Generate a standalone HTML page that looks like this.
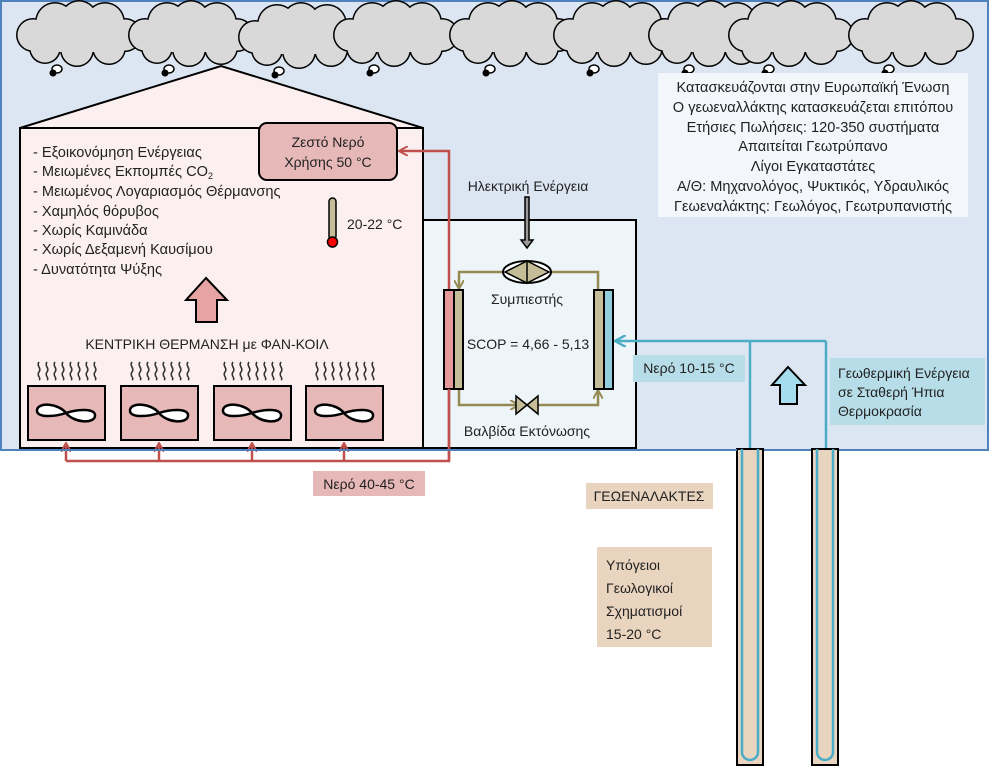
<!DOCTYPE html>
<html><head><meta charset="utf-8"><style>
html,body{margin:0;padding:0;background:#fff;}
svg{display:block;}
text{font-family:"Liberation Sans","DejaVu Sans",sans-serif;font-size:14px;fill:#222;}
.l{font-size:14.6px;}
</style></head><body>
<svg width="990" height="766" viewBox="0 0 990 766" xmlns="http://www.w3.org/2000/svg">
<defs>
<g id="cloud">
 <g fill="#000">
  <circle cx="20" cy="33" r="17"/><circle cx="42" cy="20" r="20"/><circle cx="66" cy="17" r="19"/><circle cx="92" cy="20" r="20"/><circle cx="112" cy="33" r="17"/><circle cx="96" cy="46" r="17"/><circle cx="64" cy="48" r="17"/><circle cx="32" cy="46" r="16"/>
 </g>
 <g fill="#d9d9d9">
  <circle cx="20" cy="33" r="15.5"/><circle cx="42" cy="20" r="18.5"/><circle cx="66" cy="17" r="17.5"/><circle cx="92" cy="20" r="18.5"/><circle cx="112" cy="33" r="15.5"/><circle cx="96" cy="46" r="15.5"/><circle cx="64" cy="48" r="15.5"/><circle cx="32" cy="46" r="14.5"/>
  <rect x="25" y="20" width="85" height="30"/>
 </g>
 <ellipse cx="44" cy="67" rx="5" ry="4" fill="#fff" stroke="#000" stroke-width="1.5"/>
 <circle cx="40" cy="71" r="3.5" fill="#000"/>
</g>
<g id="fan">
 <rect x="0" y="0" width="77" height="54" fill="#e6b8b7" stroke="#000" stroke-width="2"/>
 <path d="M38 27 C30 17 10 16 9 24 C8 32 26 31 38 27 C50 23 68 22 67 30 C66 38 46 37 38 27 Z" fill="#fff" stroke="#000" stroke-width="2.5"/>
</g>
<g id="waves" fill="none" stroke="#333" stroke-width="1.6">
 <path d="M3 0 c-3 4 3 6 0 10 c-3 4 3 6 0 8"/><path d="M11 0 c-3 4 3 6 0 10 c-3 4 3 6 0 8"/><path d="M19 0 c-3 4 3 6 0 10 c-3 4 3 6 0 8"/><path d="M27 0 c-3 4 3 6 0 10 c-3 4 3 6 0 8"/><path d="M35 0 c-3 4 3 6 0 10 c-3 4 3 6 0 8"/><path d="M43 0 c-3 4 3 6 0 10 c-3 4 3 6 0 8"/><path d="M51 0 c-3 4 3 6 0 10 c-3 4 3 6 0 8"/><path d="M59 0 c-3 4 3 6 0 10 c-3 4 3 6 0 8"/>
</g>
<marker id="ar" markerWidth="10" markerHeight="10" refX="8" refY="5" orient="auto" markerUnits="userSpaceOnUse"><path d="M0 0 L9 5 L0 10" fill="none" stroke="#c0504d" stroke-width="2"/></marker>
<marker id="ab" markerWidth="12" markerHeight="12" refX="10" refY="6" orient="auto" markerUnits="userSpaceOnUse"><path d="M0 0 L11 6 L0 12" fill="none" stroke="#4bacc6" stroke-width="2.5"/></marker>
<marker id="ao" markerWidth="10" markerHeight="10" refX="8" refY="5" orient="auto" markerUnits="userSpaceOnUse"><path d="M0 0 L9 5 L0 10" fill="none" stroke="#948a54" stroke-width="2"/></marker>
</defs>

<rect x="1" y="1" width="987" height="449" fill="#dce6f2" stroke="#4f81bd" stroke-width="2"/>

<use href="#cloud" x="13" y="2"/>
<use href="#cloud" x="125" y="2"/>
<use href="#cloud" x="235" y="4"/>
<use href="#cloud" x="330" y="2"/>
<use href="#cloud" x="446" y="2"/>
<use href="#cloud" x="550" y="2"/>
<use href="#cloud" x="645" y="2"/>
<use href="#cloud" x="725" y="2"/>
<use href="#cloud" x="845" y="2"/>

<!-- info box -->
<rect x="658" y="73" width="310" height="144" fill="#f3f7fb"/>
<g text-anchor="middle" class="l">
<text class="l" x="813" y="92">Κατασκευάζονται στην Ευρωπαϊκή Ένωση</text>
<text class="l" x="813" y="112">Ο γεωεναλλάκτης κατασκευάζεται επιτόπου</text>
<text class="l" x="813" y="132">Ετήσιες Πωλήσεις: 120-350 συστήματα</text>
<text class="l" x="813" y="151">Απαιτείται Γεωτρύπανο</text>
<text class="l" x="813" y="171">Λίγοι Εγκαταστάτες</text>
<text class="l" x="813" y="191">Α/Θ: Μηχανολόγος, Ψυκτικός, Υδραυλικός</text>
<text class="l" x="813" y="211">Γεωεναλάκτης: Γεωλόγος, Γεωτρυπανιστής</text>
</g>

<!-- house -->
<path d="M20 128 L221 66 L423 128 Z" fill="#fbf0ef" stroke="#000" stroke-width="2"/>
<rect x="20" y="128" width="403" height="320" fill="#fbf0ef" stroke="#000" stroke-width="2"/>

<!-- heat pump box -->
<rect x="423" y="220" width="213" height="228" fill="#eef5f8" stroke="#000" stroke-width="2"/>

<!-- list -->
<g>
<text class="l" x="33" y="157">- Εξοικονόμηση Ενέργειας</text>
<text class="l" x="33" y="176">- Μειωμένες Εκπομπές CO<tspan font-size="9" dy="3">2</tspan></text>
<text class="l" x="33" y="196">- Μειωμένος Λογαριασμός Θέρμανσης</text>
<text class="l" x="33" y="216">- Χαμηλός θόρυβος</text>
<text class="l" x="33" y="235">- Χωρίς Καμινάδα</text>
<text class="l" x="33" y="254">- Χωρίς Δεξαμενή Καυσίμου</text>
<text class="l" x="33" y="274">- Δυνατότητα Ψύξης</text>
</g>

<!-- hot water box -->
<rect x="259" y="123" width="138" height="57" rx="8" fill="#e6b8b7" stroke="#000" stroke-width="2"/>
<text x="328" y="147" text-anchor="middle">Ζεστό Νερό</text>
<text x="328" y="167" text-anchor="middle">Χρήσης 50 °C</text>

<!-- thermometer -->
<rect x="329" y="198" width="7" height="42" rx="3.5" fill="#c4bd97" stroke="#000" stroke-width="1.5"/>
<circle cx="332.5" cy="242" r="5" fill="#f00" stroke="#000" stroke-width="1.5"/>
<text x="347" y="229">20-22 °C</text>

<!-- pink up arrow -->
<path d="M206 278 L227 300 L217 300 L217 322 L196 322 L196 300 L186 300 Z" fill="#e6a3a2" stroke="#000" stroke-width="2"/>

<text x="207" y="349" text-anchor="middle" font-size="14.5">ΚΕΝΤΡΙΚΗ ΘΕΡΜΑΝΣΗ με ΦΑΝ-ΚΟΙΛ</text>

<use href="#waves" x="36" y="362"/>
<use href="#waves" x="129" y="362"/>
<use href="#waves" x="222" y="362"/>
<use href="#waves" x="314" y="362"/>
<use href="#fan" x="28" y="386"/>
<use href="#fan" x="121" y="386"/>
<use href="#fan" x="214" y="386"/>
<use href="#fan" x="306" y="386"/>

<!-- red piping -->
<g fill="none" stroke="#c0504d" stroke-width="2.5">
<path d="M66 461 L449 461 L449 151 L400 151" marker-end="url(#ar)"/>
<path d="M66 461 L66 444" marker-end="url(#ar)"/>
<path d="M159 461 L159 444" marker-end="url(#ar)"/>
<path d="M252 461 L252 444" marker-end="url(#ar)"/>
<path d="M344 461 L344 444" marker-end="url(#ar)"/>
</g>
<rect x="313" y="471" width="112" height="25" fill="#e6b8b7"/>
<text x="369" y="489" text-anchor="middle">Νερό 40-45 °C</text>

<!-- electric energy -->
<text x="528" y="191" text-anchor="middle">Ηλεκτρική Ενέργεια</text>
<path d="M525 197 L529 197 L529 240 L533 240 L527 248 L521 240 L525 240 Z" fill="#999" stroke="#000" stroke-width="1.5"/>

<!-- refrigerant loop -->
<g fill="none" stroke="#948a54" stroke-width="2.5">
<path d="M598 290 L598 272 L459 272 L459 288" marker-end="url(#ao)"/>
<path d="M459 389 L459 405 L518 405" marker-end="url(#ao)"/>
<path d="M536 405 L598 405 L598 391" marker-end="url(#ao)"/>
</g>
<ellipse cx="527" cy="272" rx="24" ry="11" fill="#fff" stroke="#000" stroke-width="2"/>
<path d="M505 272 L527 261 L527 283 Z M549 272 L527 261 L527 283 Z" fill="#c4bd97" stroke="#000" stroke-width="1.5"/>
<path d="M516 396 L538 414 L538 396 L516 414 Z" fill="#c4bd97" stroke="#000" stroke-width="1.5"/>
<text x="527" y="304" text-anchor="middle">Συμπιεστής</text>
<text x="528" y="349" text-anchor="middle" font-size="15">SCOP = 4,66 - 5,13</text>
<text x="527" y="436" text-anchor="middle">Βαλβίδα Εκτόνωσης</text>

<!-- exchangers -->
<rect x="444" y="290" width="10" height="99" fill="#e6999a" stroke="#000" stroke-width="2"/>
<rect x="454" y="290" width="9" height="99" fill="#c4bd97" stroke="#000" stroke-width="2"/>
<rect x="594" y="290" width="10" height="99" fill="#c4bd97" stroke="#000" stroke-width="2"/>
<rect x="604" y="290" width="9" height="99" fill="#93cddd" stroke="#000" stroke-width="2"/>
<line x1="449" y1="389" x2="449" y2="461" stroke="#c0504d" stroke-width="2.5"/>

<!-- blue piping -->
<g fill="none" stroke="#4bacc6" stroke-width="2.5">
<path d="M826 341 L616 341" marker-end="url(#ab)"/>
<path d="M750 341 L750 450"/>
<path d="M826 341 L826 450"/>
</g>
<rect x="633" y="355" width="112" height="27" fill="#b7dde8"/>
<text x="689" y="373" text-anchor="middle">Νερό 10-15 °C</text>
<path d="M788 367 L805 385 L797 385 L797 404 L780 404 L780 385 L772 385 Z" fill="#a5dcee" stroke="#000" stroke-width="2"/>
<rect x="830" y="358" width="155" height="67" fill="#b7dde8"/>
<text x="838" y="378">Γεωθερμική Ενέργεια</text>
<text x="838" y="397">σε Σταθερή Ήπια</text>
<text x="838" y="416">Θερμοκρασία</text>

<!-- wells -->
<rect x="737" y="449" width="26" height="316" fill="#e8d4bf" stroke="#000" stroke-width="2"/>
<rect x="812" y="449" width="26" height="316" fill="#e8d4bf" stroke="#000" stroke-width="2"/>
<g fill="none" stroke="#4bacc6" stroke-width="2.5">
<path d="M742 449 L742 752 A8 8 0 0 0 758 752 L758 449"/>
<path d="M817 449 L817 752 A8 8 0 0 0 833 752 L833 449"/>
</g>
<line x1="1" y1="450" x2="737" y2="450" stroke="#4f81bd" stroke-width="2"/>

<rect x="586" y="483" width="127" height="26" fill="#e8d4bf"/>
<text x="649" y="501" text-anchor="middle">ΓΕΩΕΝΑΛΑΚΤΕΣ</text>
<rect x="597" y="547" width="115" height="100" fill="#e8d4bf"/>
<text x="606" y="570">Υπόγειοι</text>
<text x="606" y="593">Γεωλογικοί</text>
<text x="606" y="616">Σχηματισμοί</text>
<text x="606" y="639">15-20 °C</text>
</svg>
</body></html>
